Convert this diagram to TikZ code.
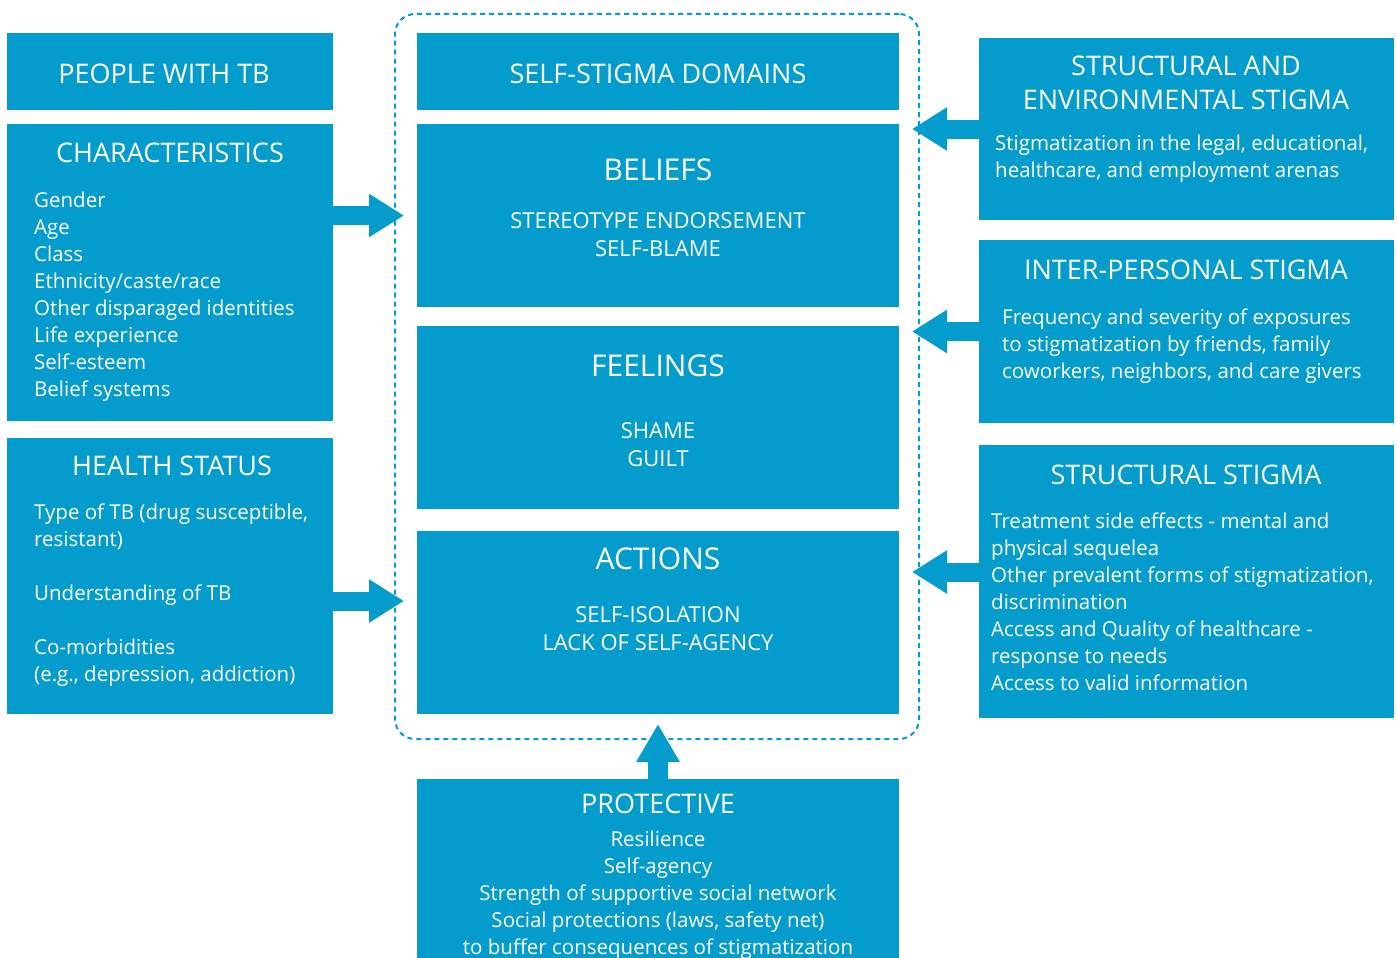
\documentclass[tikz,border=0pt]{standalone}
\usepackage{fontspec}
\setmainfont{Open Sans}
\usetikzlibrary{arrows.meta,calc}
\definecolor{tbblue}{RGB}{4,155,205}
\begin{document}
\begin{tikzpicture}[x=1pt,y=-1pt,
  box/.style={fill=tbblue, draw=none, inner sep=0pt, outer sep=0pt},
  ttl/.style={text=white, font=\fontsize{27}{33}\selectfont, inner sep=0pt, anchor=base, align=center},
  bigttl/.style={text=white, font=\fontsize{30}{36}\selectfont, inner sep=0pt, anchor=base},
  subttl/.style={text=white, font=\fontsize{22}{28}\selectfont, inner sep=0pt, anchor=base, align=center},
  bodytxt/.style={text=white, font=\fontsize{20.5}{27}\selectfont, inner sep=0pt, anchor=base west, align=left},
  bodyctr/.style={text=white, font=\fontsize{20.5}{27}\selectfont, inner sep=0pt, anchor=base, align=center},
  blockarrow/.style={draw=tbblue, line width=19pt, -{Triangle[length=35pt,width=41pt]}},
  uparrow/.style={draw=tbblue, line width=20pt, -{Triangle[length=38pt,width=41pt]}},
  dashbox/.style={draw=tbblue, line width=2pt, dash pattern=on 5pt off 4pt, rounded corners=20pt, inner sep=0pt}]
\useasboundingbox (0,0) rectangle (1397,958);
% dashed frame
\node[dashbox, minimum width=524, minimum height=725] (frame) at (657,376.5) {};
% boxes
\node[box, minimum width=326, minimum height=77]  (people)   at (170,71.5) {};
\node[box, minimum width=326, minimum height=297] (char)     at (170,272.5) {};
\node[box, minimum width=326, minimum height=276] (health)   at (170,576) {};
\node[box, minimum width=482, minimum height=77]  (ssd)      at (658,71.5) {};
\node[box, minimum width=482, minimum height=183] (beliefs)  at (658,215.5) {};
\node[box, minimum width=482, minimum height=183] (feelings) at (658,417.5) {};
\node[box, minimum width=482, minimum height=183] (actions)  at (658,622.5) {};
\node[box, minimum width=482, minimum height=179] (prot)     at (658,868.5) {};
\node[box, minimum width=415, minimum height=182] (se)       at (1186.5,129) {};
\node[box, minimum width=415, minimum height=183] (ip)       at (1186.5,331.5) {};
\node[box, minimum width=415, minimum height=273] (ss)       at (1186.5,581.5) {};
% arrows
\draw[blockarrow] (char.east |- beliefs.west) -- ($(beliefs.west)+(-13,0)$);
\draw[blockarrow] ($(health.east)+(0,25)$) -- ($(actions.west |- health.east)+(-13,25)$);
\draw[blockarrow] (se.west) -- ($(se.west -| beliefs.east)+(13,0)$);
\draw[blockarrow] (ip.west) -- ($(ip.west -| feelings.east)+(13,0)$);
\draw[blockarrow] ($(ss.west)+(0,-9.5)$) -- ($(ss.west -| actions.east)+(13,-9.5)$);
\draw[uparrow] (prot.north) -- ($(actions.south)+(0,10)$);
% texts left (base anchor = baseline of last line)
\node[ttl] (tpeople) at (164,84) {PEOPLE WITH TB};
\node[ttl] (tchar) at (170,162) {CHARACTERISTICS};
\node[bodytxt] (bchar) at (34,396) {Gender\\Age\\Class\\Ethnicity/caste/race\\Other disparaged identities\\Life experience\\Self-esteem\\Belief systems};
\node[ttl] (thealth) at (172,475) {HEALTH STATUS};
\node[bodytxt] (bhealth) at (34,681) {Type of TB (drug susceptible,\\resistant)\\[27pt]Understanding of TB\\[27pt]Co-morbidities\\(e.g., depression, addiction)};
% texts middle
\node[ttl] (tssd) at (658,84) {SELF-STIGMA DOMAINS};
\node[bigttl] (tbel) at (658,180) {BELIEFS};
\node[subttl] (sbel) at (658,256) {STEREOTYPE ENDORSEMENT\\SELF-BLAME};
\node[bigttl] (tfeel) at (658,376) {FEELINGS};
\node[subttl] (sfeel) at (658,466) {SHAME\\GUILT};
\node[bigttl] (tact) at (658,569) {ACTIONS};
\node[subttl] (sact) at (658,650) {SELF-ISOLATION\\LACK OF SELF-AGENCY};
\node[ttl] (tprot) at (658,813) {PROTECTIVE};
\node[bodyctr] (bprot) at (658,954) {Resilience\\Self-agency\\Strength of supportive social network\\Social protections (laws, safety net)\\to buffer consequences of stigmatization};
% texts right
\node[ttl] (tse) at (1186,109) {STRUCTURAL AND\\ENVIRONMENTAL STIGMA};
\node[bodytxt] (bse) at (995,177) {Stigmatization in the legal, educational,\\healthcare, and employment arenas};
\node[ttl] (tip) at (1186,279) {INTER-PERSONAL STIGMA};
\node[bodytxt] (bip) at (1002,378) {Frequency and severity of exposures\\to stigmatization by friends, family\\coworkers, neighbors, and care givers};
\node[ttl] (tss) at (1186,484) {STRUCTURAL STIGMA};
\node[bodytxt] (bss) at (991,690) {Treatment side effects - mental and\\physical sequelea\\Other prevalent forms of stigmatization,\\discrimination\\Access and Quality of healthcare -\\response to needs\\Access to valid information};
\end{tikzpicture}
\end{document}
